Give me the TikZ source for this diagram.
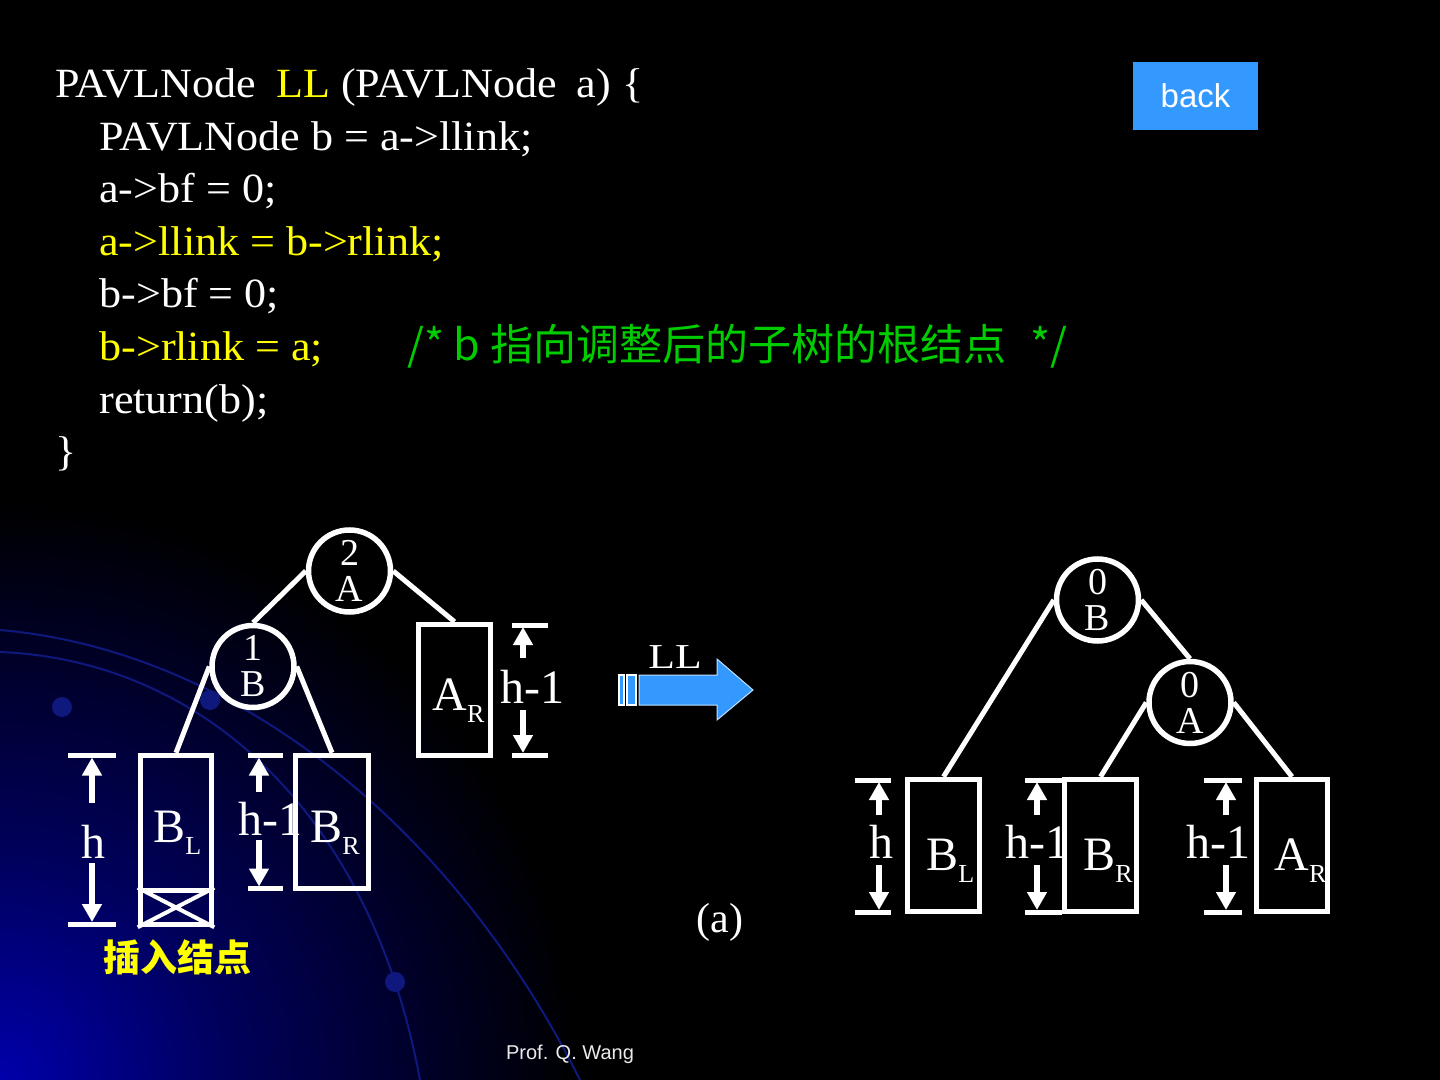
\documentclass[tikz,border=0pt]{standalone}
\usepackage{fontspec}
\usepackage{graphicx}
\setmainfont{Liberation Serif}
\setsansfont{Liberation Sans}
\newfontfamily\cjk{Noto Sans CJK SC}
\newfontfamily\codefam[FakeStretch=1.06]{Liberation Serif}
\usetikzlibrary{arrows.meta}
\definecolor{codeyellow}{RGB}{255,255,0}
\definecolor{cmtgreen}{RGB}{0,204,0}
\definecolor{btnblue}{RGB}{51,153,255}
\definecolor{glowblue}{RGB}{0,0,170}
\definecolor{glowmid}{RGB}{0,0,90}
\definecolor{arcblue}{RGB}{15,25,125}
\pgfdeclareradialshading{bgglow}{\pgfpoint{0bp}{0bp}}{color(0bp)=(glowblue); color(10bp)=(glowmid); color(25bp)=(black); color(50bp)=(black)}
\newcommand{\codesize}{\codefam\fontsize{20.8}{20.8}\selectfont}
\newcommand{\treefont}{\fontsize{24}{24}\selectfont}
\newcommand{\mysub}[1]{\raisebox{-6pt}{\fontsize{13}{13}\selectfont #1}}
\newcommand{\dimmk}[8]{%
  \coordinate (#1tl) at (#2,#5); \coordinate (#1tr) at (#3,#5);
  \coordinate (#1bl) at (#2,#6); \coordinate (#1br) at (#3,#6);
  \coordinate (#1us) at (#4,#7); \coordinate (#1ut) at (#4,{#5+2});
  \coordinate (#1ds) at (#4,#8); \coordinate (#1dt) at (#4,{#6-2});
  \draw[dimbar] (#1tl) -- (#1tr);
  \draw[dimbar] (#1bl) -- (#1br);
  \draw[dimarrow] (#1us) -- (#1ut);
  \draw[dimarrow] (#1ds) -- (#1dt);
}
\begin{document}
\begin{tikzpicture}[x=0.5pt,y=-0.5pt,
  tbox/.style={rectangle, draw=white, line width=2.75pt, inner sep=0pt},
  tcirc/.style={circle, draw=white, line width=2.75pt, minimum size=41pt, inner sep=0pt, align=center, text=white, font=\fontsize{19}{18}\selectfont},
  edge/.style={draw=white, line width=2.5pt},
  dimbar/.style={draw=white, line width=2.5pt},
  dimarrow/.style={draw=white, line width=3pt, -{Triangle[width=9.5pt,length=9pt]}},
  codeline/.style={anchor=base west, text=white, inner sep=0pt, font=\codesize},
  tlabel/.style={anchor=base west, text=white, inner sep=0pt, font=\treefont},
]
% background
\fill[black] (0,0) rectangle (1440,1080);
\begin{scope}
\clip (0,0) rectangle (1440,1080);
\shade[shading=bgglow] (0,1080) circle (290pt);
\draw[arcblue, line width=1pt] (0,630) .. controls (230,650) and (450,820) .. (580,1080);
\draw[arcblue, line width=1pt] (0,652) .. controls (200,660) and (370,810) .. (420,1080);
\fill[arcblue] (62,707) circle (5pt);
\fill[arcblue] (210,700) circle (5pt);
\fill[arcblue] (395,982) circle (5pt);
\end{scope}

% code
\node[codeline] (c1) at (55,98) {PAVLNode\hspace{10pt}\textcolor{codeyellow}{LL} (PAVLNode\hspace{10pt}a) \{};
\node[codeline] (c2) at (99,150.5) {PAVLNode b = a->llink;};
\node[codeline] (c3) at (99,203) {a->bf = 0;};
\node[codeline, text=codeyellow] (c4) at (99,255.5) {a->llink = b->rlink;};
\node[codeline] (c5) at (99,308) {b->bf = 0;};
\node[codeline, text=codeyellow] (c6) at (99,361) {b->rlink = a;};
\node[codeline] (c7) at (99,413.5) {return(b);};
\node[codeline] (c8) at (55,466) {\}};
\node[anchor=base west, inner sep=0pt, text=cmtgreen, font=\cjk\fontsize{21.5}{21.5}\selectfont] (cmt) at (407,361) {/* b 指向调整后的子树的根结点\hspace{12pt}*/};

% back button
\node[fill=btnblue, minimum width=62.5pt, minimum height=34pt, inner sep=0pt, text=white, font=\sffamily\fontsize{16.5}{16.5}\selectfont] (back) at (1195.5,96) {back};

% footer
\node[text=white!92!black, font=\sffamily\fontsize{10}{10}\selectfont] (foot) at (570,1054) {Prof. Q. Wang};

% left tree
\node[tcirc] (lA) at (349.5,571) {2\\A};
\node[tcirc] (lB) at (253,666.5) {1\\B};
\node[tbox, minimum width=36pt, minimum height=65.5pt] (lAR) at (454.5,690) {};
\node[tbox, minimum width=35.5pt, minimum height=67.5pt] (lBL) at (176,823) {};
\node[tbox, minimum width=35.5pt, minimum height=17pt] (lins) at (176,907.5) {};
\draw[white, line width=2pt] (lins.north west) -- (lins.south east) (lins.north east) -- (lins.south west);
\node[tbox, minimum width=36.5pt, minimum height=66.5pt] (lBR) at (332,822) {};
\draw[edge] (lA.west) -- (lB.north);
\draw[edge] (lA.east) -- (lAR.north);
\draw[edge] (lB.west) -- (lBL.north);
\draw[edge] (lB.east) -- (lBR.north);
\node[tlabel] (lARt) at (432,710) {A\mysub{R}};
\node[tlabel] (lBLt) at (153,842) {B\mysub{L}};
\node[tlabel] (lBRt) at (310,842) {B\mysub{R}};
\dimmk{dla}{68}{116}{92}{755.5}{924}{803}{863}
\node[tlabel] (dlat) at (81,858) {h};
\dimmk{dlb}{248}{283}{259}{755.5}{888.5}{792}{840}
\node[tlabel] (dlbt) at (238,835) {h-1};
\dimmk{dlc}{512}{548}{523}{625}{755}{658}{710}
\node[tlabel] (dlct) at (500,703) {h-1};
\node[text=codeyellow, font=\cjk\bfseries\fontsize{18.5}{18.5}\selectfont] (inslbl) at (177,957) {插入结点};

% transformation arrow
\filldraw[fill=btnblue, draw=white, line width=0.6pt] (619,675) rectangle (624,705);
\filldraw[fill=btnblue, draw=white, line width=0.6pt] (627,675) rectangle (636,705);
\filldraw[fill=btnblue, draw=white!70!btnblue, line width=0.5pt] (639,675) -- (717,675) -- (717,659) -- (753,690) -- (717,720) -- (717,705) -- (639,705) -- cycle;
\node[text=white, font=\fontsize{17.5}{17.5}\selectfont] (ll) at (675,657) {\scalebox{1.25}[1]{LL}};
\node[text=white, font=\fontsize{21}{21}\selectfont] (cap) at (720,922) {(a)};

% right tree
\node[tcirc] (rB) at (1097.5,600) {0\\B};
\node[tcirc] (rA) at (1190,702.5) {0\\A};
\node[tbox, minimum width=36pt, minimum height=66pt] (rBL) at (943.5,845.5) {};
\node[tbox, minimum width=36pt, minimum height=66pt] (rBR) at (1100.5,845.5) {};
\node[tbox, minimum width=35.5pt, minimum height=66pt] (rAR) at (1292,845.5) {};
\draw[edge] (rB.west) -- (rBL.north);
\draw[edge] (rB.east) -- (rA.north);
\draw[edge] (rA.west) -- (rBR.north);
\draw[edge] (rA.east) -- (rAR.north);
\node[tlabel] (rBLt) at (926,870) {B\mysub{L}};
\node[tlabel] (rBRt) at (1083,870) {B\mysub{R}};
\node[tlabel] (rARt) at (1274,870) {A\mysub{R}};
\dimmk{dra}{855}{891}{879}{780}{912}{815}{865}
\node[tlabel] (drat) at (869,858) {h};
\dimmk{drb}{1025}{1062}{1037}{780}{912}{815}{865}
\node[tlabel] (drbt) at (1005,858) {h-1};
\dimmk{drc}{1204}{1242}{1226}{780}{912}{815}{865}
\node[tlabel] (drct) at (1186,858) {h-1};

\pgfresetboundingbox
\useasboundingbox (0,0) rectangle (1440,1080);
\end{tikzpicture}
\end{document}
